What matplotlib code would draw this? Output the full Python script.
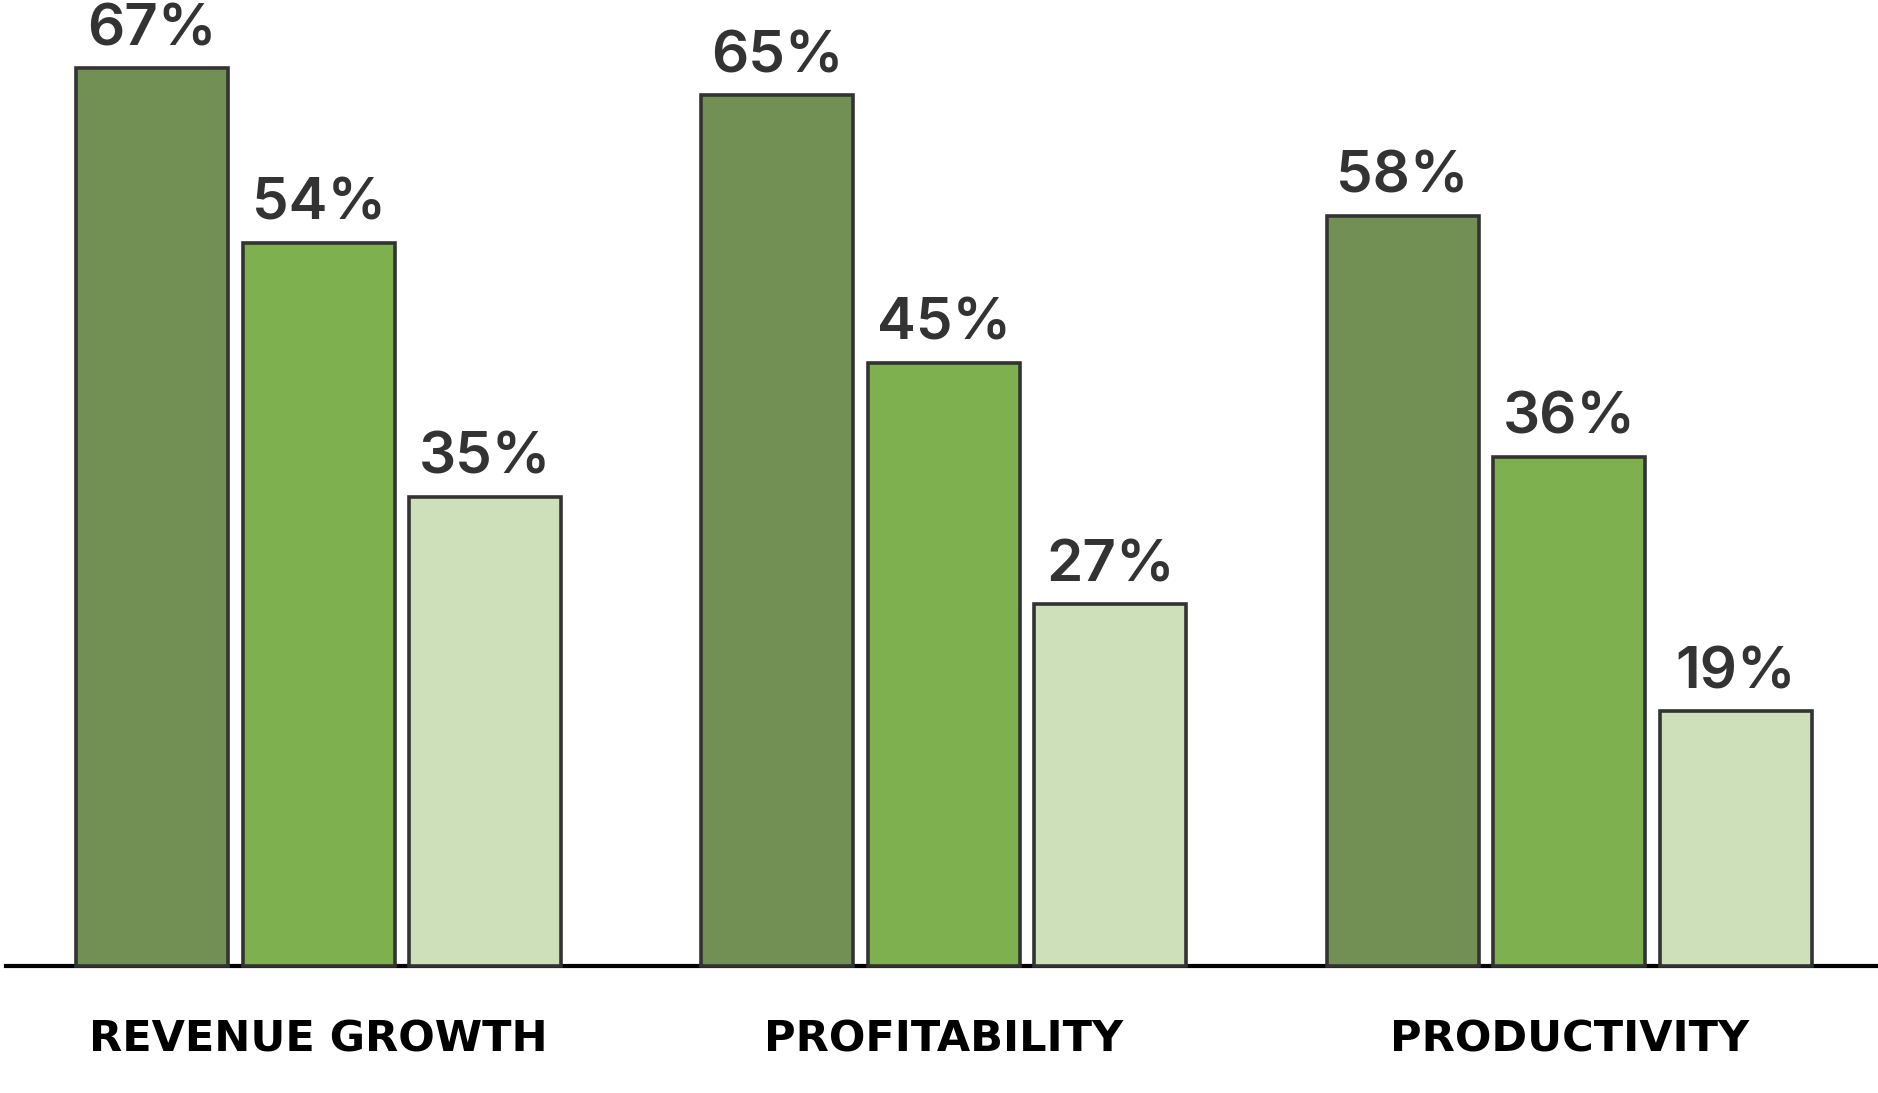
import numpy as np
import matplotlib.pyplot as plt

# ── Data ──────────────────────────────────────────────────────────────────────
categories = ['REVENUE GROWTH', 'PROFITABILITY', 'PRODUCTIVITY']
# bar heights as drawn in the picture
series_a = [67, 65, 56]
series_b = [54, 45, 38]
series_c = [35, 27, 19]
# value labels as printed above the bars
labels_a = ['67%', '65%', '58%']
labels_b = ['54%', '45%', '36%']
labels_c = ['35%', '27%', '19%']

colors = ['#729053', '#7EB050', '#CDE0B9']
edge = '#333333'

plt.rcParams['font.family'] = ['Inter', 'DejaVu Sans']

fig = plt.figure(figsize=(18.78, 10.93), dpi=100)
ax = fig.add_axes([0, 0, 1, 1])

x = np.arange(len(categories))
offset = 0.2663
width = 0.2433

series = [(series_a, labels_a), (series_b, labels_b), (series_c, labels_c)]
for i, ((vals, labs), col) in enumerate(zip(series, colors)):
    pos = x + (i - 1) * offset
    bars = ax.bar(pos, vals, width=width, color=col, edgecolor=edge,
                  linewidth=2.6, zorder=3)
    for b, v, lab in zip(bars, vals, labs):
        ax.annotate(lab, (b.get_x() + b.get_width() / 2, v),
                    xytext=(0, 8), textcoords='offset points',
                    ha='center', va='bottom', fontsize=42,
                    fontweight='semibold', color='#333333')

# baseline
ax.axhline(0, xmin=0.003, xmax=1, color='black', lw=3, zorder=2)

for xi, cat in zip(x, categories):
    ax.text(xi, -5.5, cat, ha='center', va='center', fontsize=31,
            fontweight='bold', color='black', family='DejaVu Sans')

ax.set_xlim(-0.5096, 2.494)
ax.set_ylim(-9.48, 72.1)
ax.axis('off')

fig.savefig('out.png', dpi=100)
